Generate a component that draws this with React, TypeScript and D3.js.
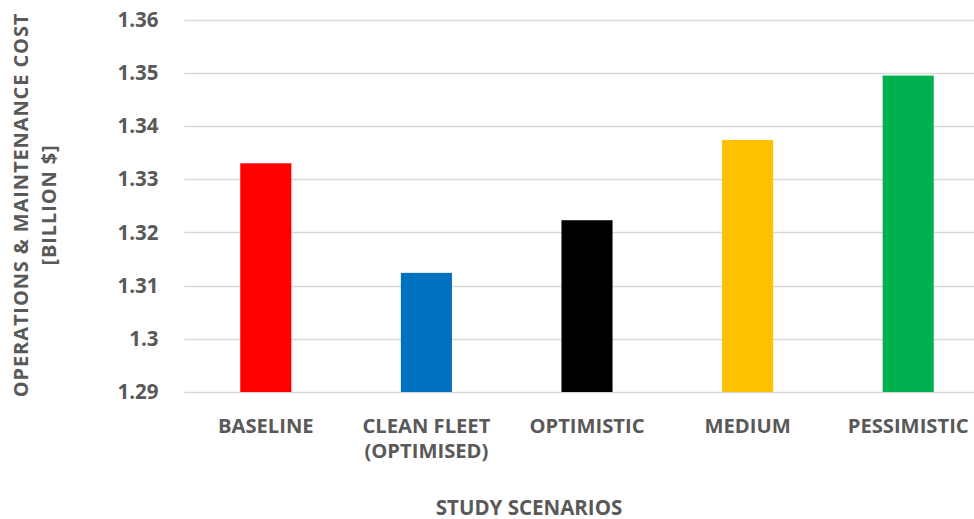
import React from "react";
import * as d3 from "d3";

// Operations & maintenance cost per study scenario (billion $)
const scenarios: string[][] = [
  ["BASELINE"],
  ["CLEAN FLEET", "(OPTIMISED)"],
  ["OPTIMISTIC"],
  ["MEDIUM"],
  ["PESSIMISTIC"],
];
const costs: number[] = [1.333, 1.3124, 1.3223, 1.3374, 1.3495];
const barColors: string[] = ["#FF0000", "#0070C0", "#000000", "#FFC000", "#00B050"];
const yTicks: number[] = [1.29, 1.3, 1.31, 1.32, 1.33, 1.34, 1.35, 1.36];
const yTitleLines: string[] = ["OPERATIONS & MAINTENANCE COST", "[BILLION $]"];
const xTitle = "STUDY SCENARIOS";

const W = 974;
const H = 519;
const FONT = "'Open Sans', 'DejaVu Sans', sans-serif";
const TEXT = "#595959";
const GRID = "#D9D9D9";

export default function App() {
  const plotLeft = 185.5;
  const plotRight = 988.5;
  const plotTop = 19.7;
  const plotBottom = 392;

  const keys = scenarios.map((s) => s.join(" "));
  const x = d3
    .scaleBand<string>()
    .domain(keys)
    .range([plotLeft, plotRight])
    .paddingInner(0.682)
    .paddingOuter(0.341);
  const y = d3.scaleLinear().domain([1.29, 1.36]).range([plotBottom, plotTop]);

  const fmt = (v: number) => d3.format(".2f")(v).replace(/0$/, "").replace(/\.$/, "");

  return (
    <svg
      width={W}
      height={H}
      viewBox={`0 0 ${W} ${H}`}
      style={{ position: "fixed", left: 0, top: 0, background: "#fff" }}
      fontFamily={FONT}
    >
      <rect x={0} y={0} width={W} height={H} fill="#fff" />
      {/* horizontal gridlines */}
      {yTicks.map((t) => (
        <line
          key={`g${t}`}
          x1={plotLeft - 1}
          x2={plotRight}
          y1={Math.round(y(t)) + 0.5}
          y2={Math.round(y(t)) + 0.5}
          stroke={GRID}
          strokeWidth={1.3}
        />
      ))}
      {/* y tick labels */}
      {yTicks.map((t) => (
        <text
          key={`t${t}`}
          x={158.5}
          y={y(t)}
          dy="0.35em"
          textAnchor="end"
          fontSize={20.5}
          fontWeight={700}
          fill={TEXT}
        >
          {fmt(t)}
        </text>
      ))}
      {/* bars */}
      {costs.map((v, i) => (
        <rect
          key={keys[i]}
          x={x(keys[i])}
          y={y(v)}
          width={x.bandwidth()}
          height={y(1.29) - y(v)}
          fill={barColors[i]}
        />
      ))}
      {/* category labels, one text element per line */}
      {scenarios.map((lines, i) =>
        lines.map((l, j) => (
          <text
            key={`c${i}-${j}`}
            x={(x(keys[i]) as number) + x.bandwidth() / 2}
            y={432.5 + j * 25}
            textAnchor="middle"
            fontSize={20.2}
            fontWeight={700}
            fill={TEXT}
          >
            {l}
          </text>
        ))
      )}
      {/* y axis title */}
      <g transform="translate(0,205) rotate(-90)">
        {yTitleLines.map((l, j) => (
          <text
            key={j}
            x={0}
            y={28 + j * 27.5}
            textAnchor="middle"
            fontSize={20}
            fontWeight={700}
            letterSpacing={0.9}
            fill={TEXT}
          >
            {l}
          </text>
        ))}
      </g>
      {/* x axis title */}
      <text x={529} y={514.5} textAnchor="middle" fontSize={20.5} fontWeight={700} fill={TEXT}>
        {xTitle}
      </text>
    </svg>
  );
}
